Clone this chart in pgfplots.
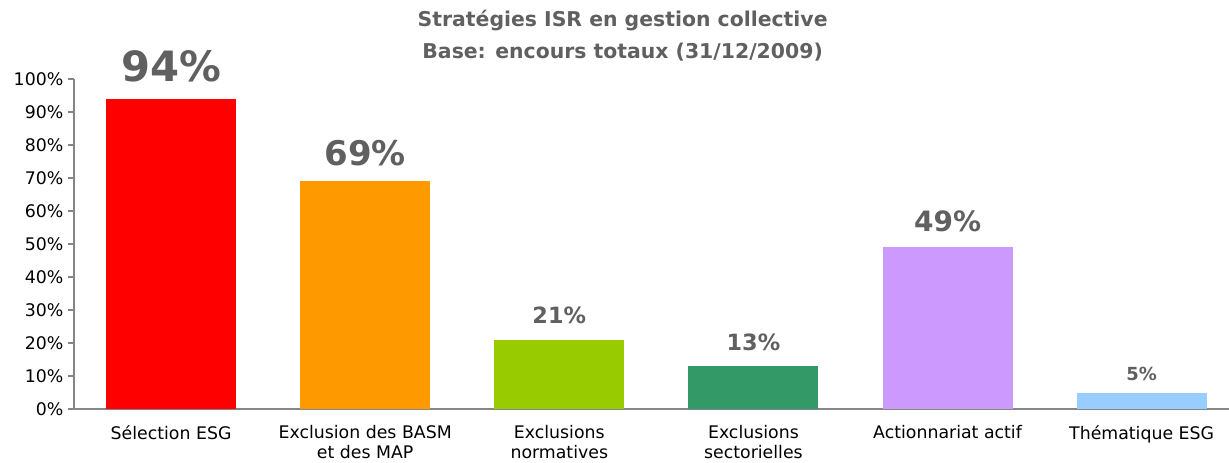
\documentclass[border=0pt]{standalone}
\usepackage{fontspec}
\setmainfont{DejaVu Sans}
\usepackage{pgfplots}
\pgfplotsset{compat=1.18}
\definecolor{cRed}{HTML}{FF0000}
\definecolor{cOrange}{HTML}{FF9900}
\definecolor{cLime}{HTML}{99CC00}
\definecolor{cGreen}{HTML}{339966}
\definecolor{cPurple}{HTML}{CC99FF}
\definecolor{cBlue}{HTML}{99CCFF}
\definecolor{txtgray}{HTML}{606060}
\definecolor{axgray}{HTML}{868686}
\begin{document}
\begin{tikzpicture}
\begin{axis}[
  at={(0,0)}, anchor=south west,
  scale only axis,
  width=866.25pt, height=247.5pt,
  xmin=-0.5, xmax=5.45,
  ymin=0, ymax=100,
  ybar, bar shift=0pt, bar width=97.5pt,
  axis lines*=left,
  axis line style={axgray, line width=0.9pt},
  /pgf/number format/assume math mode=true,
  ytick={0,10,...,100},
  yticklabels={0\%,10\%,20\%,30\%,40\%,50\%,60\%,70\%,80\%,90\%,100\%},
  yticklabel style={font=\fontsize{13pt}{15pt}\selectfont, black},
  ytick style={axgray, line width=0.9pt},
  tick align=outside,
  major tick length=4.5pt,
  xtick={0,1,2,3,4,5},
  xticklabels={S\'election ESG, Exclusion des BASM\\et des MAP, Exclusions\\normatives, Exclusions\\sectorielles, Actionnariat actif, Th\'ematique ESG},
  xticklabel style={font=\fontsize{13pt}{15pt}\selectfont, black, align=center, anchor=north, yshift=-4.5pt},
  x tick style={draw=none},
  extra x ticks={0.5,1.5,2.5,3.5,4.5},
  extra x tick labels={},
  extra x tick style={tick style={axgray, line width=0.9pt, draw=axgray}, major tick length=4.5pt},
  title={Strat\'egies ISR en gestion collective\\Base: encours totaux (31/12/2009)},
  title style={align=center, font=\bfseries\fontsize{15.3pt}{24pt}\selectfont, text=txtgray, at={(axis description cs:0.475,1.106)}, anchor=center},
  nodes near coords={\pgfmathprintnumber{\pgfplotspointmeta}\%},
  every node near coord/.append style={anchor=base, text=txtgray, yshift=12pt},
]
\addplot[fill=cRed, draw=none, every node near coord/.append style={font=\bfseries\fontsize{31.3pt}{31pt}\selectfont, yshift=1pt}] coordinates {(0,94)};
\addplot[fill=cOrange, draw=none, every node near coord/.append style={font=\bfseries\fontsize{25.5pt}{25pt}\selectfont}] coordinates {(1,69)};
\addplot[fill=cLime, draw=none, every node near coord/.append style={font=\bfseries\fontsize{16.8pt}{16pt}\selectfont}] coordinates {(2,21)};
\addplot[fill=cGreen, draw=none, every node near coord/.append style={font=\bfseries\fontsize{16.8pt}{16pt}\selectfont}] coordinates {(3,13)};
\addplot[fill=cPurple, draw=none, every node near coord/.append style={font=\bfseries\fontsize{21pt}{21pt}\selectfont}] coordinates {(4,49)};
\addplot[fill=cBlue, draw=none, every node near coord/.append style={font=\bfseries\fontsize{13.5pt}{13.5pt}\selectfont, yshift=-3pt}] coordinates {(5,5)};
\end{axis}
\pgfresetboundingbox
\path[use as bounding box] (-55.5pt,-39.75pt) rectangle (866.25pt,306.75pt);
\end{tikzpicture}
\end{document}
